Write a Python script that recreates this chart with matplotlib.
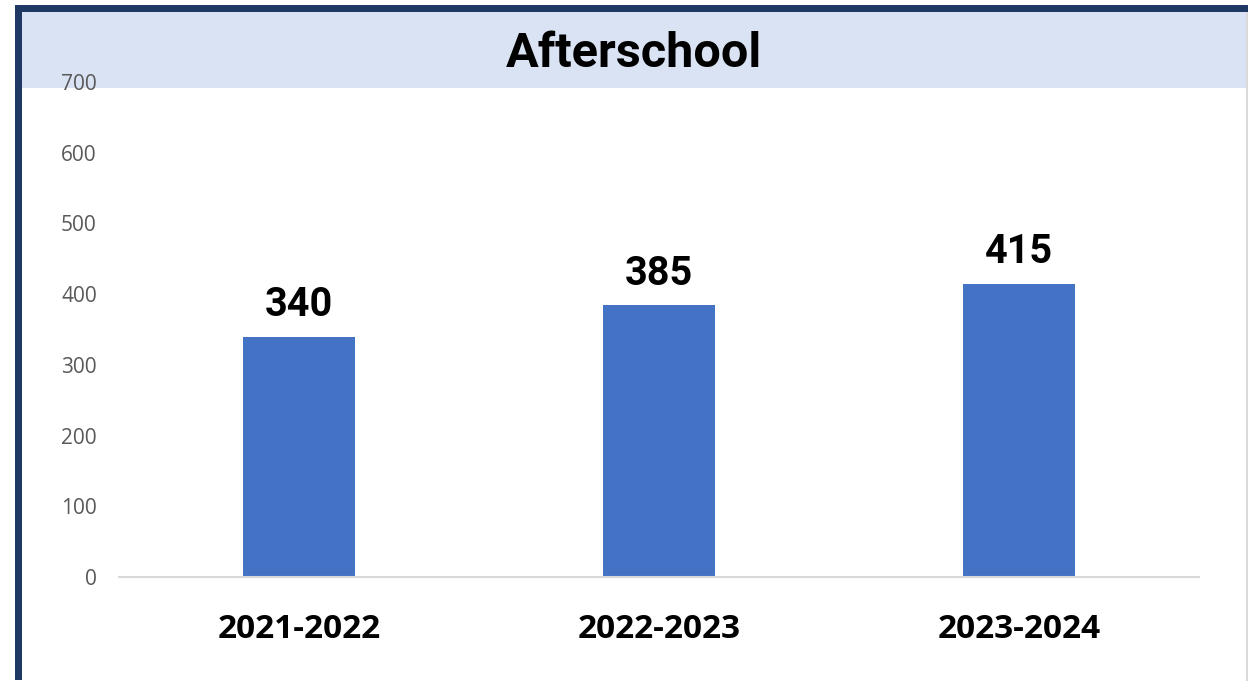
import matplotlib
matplotlib.use("Agg")
import matplotlib.pyplot as plt
from matplotlib.patches import Rectangle

# chart data
seasons = ["2021-2022", "2022-2023", "2023-2024"]
enrolled = [340, 385, 415]
y_ticks = [0, 100, 200, 300, 400, 500, 600, 700]

W, H = 1248, 681
fig = plt.figure(figsize=(W / 100, H / 100), dpi=100)
fig.patch.set_facecolor("white")

def px_rect(x0, y0, x1, y1, color, z=-5):
    # rectangle given in pixel coords (top-left origin)
    fig.patches.append(Rectangle((x0 / W, 1 - y1 / H), (x1 - x0) / W, (y1 - y0) / H,
                                 transform=fig.transFigure, facecolor=color,
                                 edgecolor="none", zorder=z))

# title band + frame
px_rect(22, 12, 1246, 88, "#dae3f3")
px_rect(15, 5, 1248, 12, "#203864")
px_rect(15, 5, 22, 680, "#203864")
px_rect(1246, 12, 1248, 681, "#d9d9d9")

fig.text(634 / W, 1 - 67 / H, "Afterschool", ha="center", va="baseline",
         fontsize=35, fontweight="bold", family="Roboto", color="black")

ax = fig.add_axes([119 / W, 1 - 577 / H, 1080 / W, 495 / H])
ax.set_zorder(5)
ax.patch.set_alpha(0)
x = range(len(seasons))
bars = ax.bar(x, enrolled, width=0.31, color="#4472c4", zorder=2)

for xi, v in zip(x, enrolled):
    ax.annotate(str(v), (xi, v), xytext=(0, 14.5), textcoords="offset points",
                ha="center", va="baseline", fontsize=28.5, fontweight="bold",
                family="Roboto", color="black")

ax.set_xlim(-0.5, 2.5)
ax.set_ylim(0, 700)
ax.set_yticks(y_ticks)
ax.set_yticklabels([str(t) for t in y_ticks], fontsize=15, family="Open Sans",
                   color="#595959")
ax.set_xticks(list(x))
ax.set_xticklabels(seasons, fontsize=24, fontweight="bold", family="Open Sans",
                   color="black")
ax.tick_params(axis="y", length=0, pad=16)
ax.tick_params(axis="x", length=0, pad=26)

for s in ["top", "right", "left"]:
    ax.spines[s].set_visible(False)
ax.spines["bottom"].set_color("#d9d9d9")
ax.spines["bottom"].set_linewidth(1.5)

fig.savefig("out.png", dpi=100)
